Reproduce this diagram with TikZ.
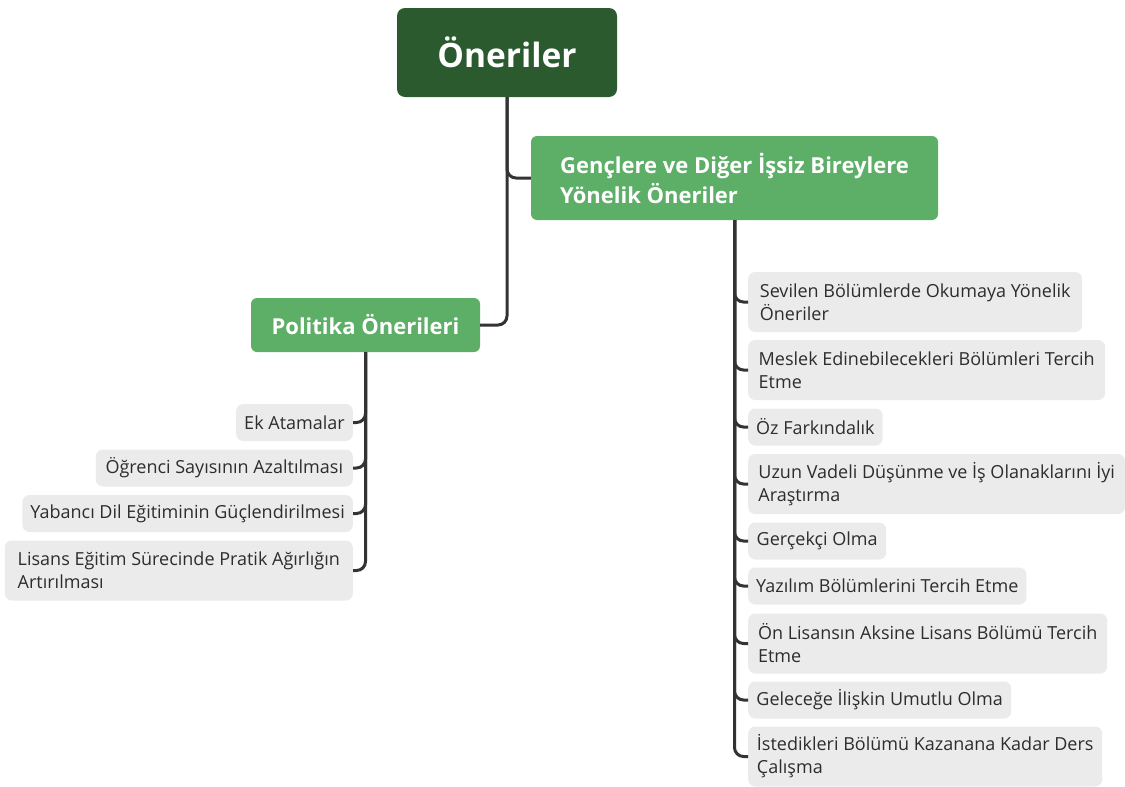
\documentclass[tikz,border=0pt]{standalone}
\usepackage{fontspec}
\setmainfont{Open Sans}
\definecolor{rootgreen}{RGB}{43,90,47}
\definecolor{midgreen}{RGB}{93,174,103}
\definecolor{leafgray}{RGB}{235,235,235}
\definecolor{linegray}{RGB}{51,51,51}
\definecolor{textgray}{RGB}{45,45,45}
\begin{document}
\begin{tikzpicture}[x=1pt,y=-1pt]
        \tikzset{
          rootbox/.style={fill=rootgreen,text=white,rounded corners=8pt,minimum width=220pt,minimum height=89pt,font=\fontsize{33.5}{40}\selectfont\bfseries},
          midbox/.style={fill=midgreen,text=white,rounded corners=6pt,align=left,font=\fontsize{22}{30}\selectfont\bfseries},
          leaf/.style={fill=leafgray,text=textgray,rounded corners=7pt,align=left,inner xsep=8pt,inner ysep=3pt,minimum height=37pt,font=\fontsize{18}{23}\selectfont},
          twoline/.style={minimum height=60pt},
          link/.style={draw=linegray,line width=3pt,rounded corners=9pt}
        }
        \useasboundingbox (0,0) rectangle (1125,787);
        %ROOT
        \node[rootbox] (root) at (507,52.5) {Öneriler};
        \node[midbox,minimum width=407pt,minimum height=84pt] (gen) at (734.5,178) {Gençlere ve Diğer İşsiz Bireylere\\Yönelik Öneriler};
        \node[midbox,minimum width=229pt,minimum height=54pt] (pol) at (365.5,325) {Politika Önerileri};
        \draw[link] (root.south) |- (gen.west);
        \draw[link] (root.south) |- (pol.east);
        %LEFT LEAVES
        \node[leaf,anchor=east,minimum width=116pt] (p1) at (353,422.5) {Ek Atamalar};
        \node[leaf,anchor=east,minimum width=257pt] (p2) at (353,468) {Öğrenci Sayısının Azaltılması};
        \node[leaf,anchor=east,minimum width=330pt] (p3) at (353,513.5) {Yabancı Dil Eğitiminin Güçlendirilmesi};
        \node[leaf,twoline,anchor=east,minimum width=348pt] (p4) at (353,570.5) {Lisans Eğitim Sürecinde Pratik Ağırlığın\\Artırılması};
        \foreach \n in {p1,p2,p3,p4}
          \draw[link] (pol.south) |- (\n.east);
        %RIGHT LEAVES
        \node[leaf,twoline,anchor=west,minimum width=334pt] (g1) at (748,302) {Sevilen Bölümlerde Okumaya Yönelik\\Öneriler};
        \node[leaf,twoline,anchor=west,minimum width=357pt] (g2) at (748,370) {Meslek Edinebilecekleri Bölümleri Tercih\\Etme};
        \node[leaf,anchor=west,minimum width=134pt] (g3) at (748,427) {Öz Farkındalık};
        \node[leaf,twoline,anchor=west,minimum width=377pt] (g4) at (748,484) {Uzun Vadeli Düşünme ve İş Olanaklarını İyi\\Araştırma};
        \node[leaf,anchor=west,minimum width=138pt] (g5) at (748,541) {Gerçekçi Olma};
        \node[leaf,anchor=west,minimum width=278pt] (g6) at (748,586) {Yazılım Bölümlerini Tercih Etme};
        \node[leaf,twoline,anchor=west,minimum width=359pt] (g7) at (748,643.5) {Ön Lisansın Aksine Lisans Bölümü Tercih\\Etme};
        \node[leaf,anchor=west,minimum width=263pt] (g8) at (748,700) {Geleceğe İlişkin Umutlu Olma};
        \node[leaf,twoline,anchor=west,minimum width=354pt] (g9) at (748,756.5) {İstedikleri Bölümü Kazanana Kadar Ders\\Çalışma};
        \foreach \n in {g1,g2,g3,g4,g5,g6,g7,g8,g9}
          \draw[link] (gen.south) |- (\n.west);
\end{tikzpicture}
\end{document}
